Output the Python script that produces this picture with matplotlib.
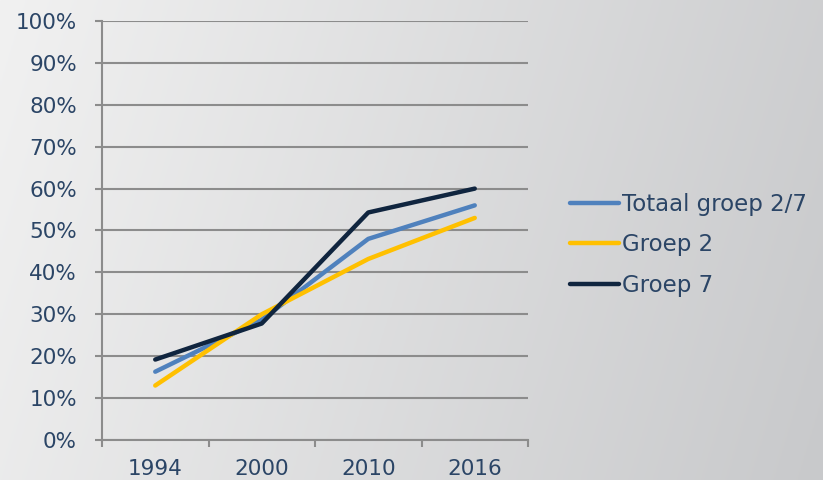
import numpy as np
import matplotlib
matplotlib.use('Agg')
import matplotlib.pyplot as plt

# data
years = ['1994', '2000', '2010', '2016']
totaal = [16.3, 28.7, 48.0, 56.0]
groep2 = [13.0, 30.0, 43.2, 53.0]
groep7 = [19.2, 27.8, 54.3, 60.0]

series_names = ['Totaal groep 2/7', 'Groep 2', 'Groep 7']
series_colors = ['#4f81bd', '#ffc000', '#10253f']
text_color = '#2b4566'
grid_color = '#8c8c8c'

plt.rcParams['font.family'] = ['DejaVu Sans']

fig = plt.figure(figsize=(8.23, 4.8), dpi=100)

# background gradient (light left -> darker right)
bg = fig.add_axes([0, 0, 1, 1], zorder=-10)
gx, gy = np.meshgrid(np.linspace(0, 1, 300), np.linspace(0, 1, 200))
t = 0.85 * gx + 0.15 * gy
c0 = np.array([241, 241, 241]) / 255.0
c1 = np.array([200, 201, 203]) / 255.0
img = c0[None, None, :] * (1 - t[..., None]) + c1[None, None, :] * t[..., None]
bg.imshow(img, aspect='auto', extent=[0, 1, 0, 1], origin='upper')
bg.axis('off')

ax = fig.add_axes([102 / 823, 1 - 440 / 480, 426 / 823, 419 / 480])
ax.patch.set_alpha(0)

x = np.arange(len(years))
for vals, name, col in zip([totaal, groep2, groep7], series_names, series_colors):
    ax.plot(x, vals, color=col, linewidth=3.2, solid_capstyle='round',
            solid_joinstyle='round', label=name, zorder=3)

ax.set_xlim(-0.5, len(years) - 0.5)
ax.set_ylim(0, 100)
ax.set_yticks(np.arange(0, 101, 10))
ax.set_yticklabels([f'{v}%' for v in range(0, 101, 10)])
ax.set_xticks(x)
ax.set_xticklabels(years)
ax.set_xticks(np.arange(-0.5, len(years), 1), minor=True)

ax.grid(axis='y', color=grid_color, linewidth=1.5, zorder=1)
for s in ['top', 'right']:
    ax.spines[s].set_visible(False)
for s in ['left', 'bottom']:
    ax.spines[s].set_color(grid_color)
    ax.spines[s].set_linewidth(1.5)

ax.tick_params(axis='y', colors=grid_color, labelcolor=text_color, length=5,
               width=1.5, pad=13, labelsize=15.5)
ax.tick_params(axis='x', which='major', length=0, pad=14,
               labelcolor=text_color, labelsize=15.5)
ax.tick_params(axis='x', which='minor', length=5, width=1.5, colors=grid_color)

leg = fig.legend(loc='center left', bbox_to_anchor=(561 / 823, 1 - 245 / 480),
                 frameon=False, fontsize=16.5, handlelength=2.15,
                 handletextpad=0.1, labelspacing=0.78, borderaxespad=0)
for txt in leg.get_texts():
    txt.set_color(text_color)

plt.savefig('out.png', dpi=100)
